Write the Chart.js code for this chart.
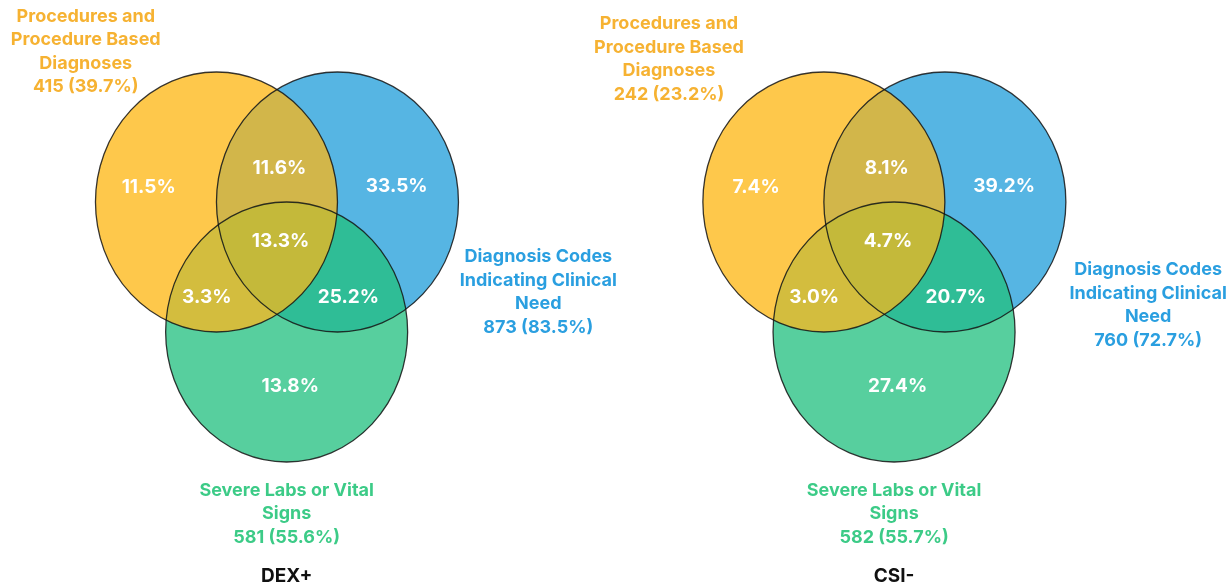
<!DOCTYPE html>
<html>
<head>
<meta charset="utf-8">
<script src="https://cdn.jsdelivr.net/npm/chart.js@4"></script>
<style>
  html, body { margin: 0; padding: 0; background: #fff; }
  #wrap { width: 1232px; height: 583px; }
</style>
</head>
<body>
<div id="wrap"><canvas id="vennChart" width="1232" height="583"></canvas></div>
<script>
// panels and sets
const panelTitles = ['DEX+', 'CSI-'];
const setNames = [
    ['Procedures and', 'Procedure Based', 'Diagnoses'],
    ['Diagnosis Codes', 'Indicating Clinical', 'Need'],
    ['Severe Labs or Vital', 'Signs']
];
const setCountsDex = [415, 873, 581];
const setPctDex = [39.7, 83.5, 55.6];
const setCountsCsi = [242, 760, 582];
const setPctCsi = [23.2, 72.7, 55.7];

// regions: A only, A&B, B only, A&B&C, A&C, B&C, C only
const regionKeys = ['A', 'AB', 'B', 'ABC', 'AC', 'BC', 'C'];
const regionPctDex = [11.5, 11.6, 33.5, 13.3, 3.3, 25.2, 13.8];
const regionPctCsi = [7.4, 8.1, 39.2, 4.7, 3.0, 20.7, 27.4];

// layout (data units, circle radius = 1)
const panelOffset = [0, 5.02];
const setCenterX = [-0.5, 0.5, 0.08];
const setCenterY = [0, 0, -1];
const regionX = [-1.06, 0.02, 0.99, 0.03, -0.58, 0.59, 0.11];
const regionY = [0.11, 0.26, 0.12, -0.30, -0.73, -0.73, -1.42];
const setLabelX = [[-1.58, 2.16, 0.08], [-1.78, 2.18, 0.08]];
const setLabelY = [[1.43, -0.42, -2.22], [1.37, -0.52, -2.22]];
const titleY = -2.88;

const setFill = ['#FEC84B', '#56B5E3', '#57CF9E'];
const setText = ['#F6B232', '#2A9FE0', '#3CCB87'];
const overlapFill = { AB: '#D2B64A', AC: '#D3BD3E', BC: '#2FBD96', ABC: '#C4B93A' };

const FONT = 'Inter, "Open Sans", sans-serif';

const panelSets = [
    { counts: setCountsDex, pct: setPctDex, regions: regionPctDex },
    { counts: setCountsCsi, pct: setPctCsi, regions: regionPctCsi }
];

const datasets = [];
panelSets.forEach((p, i) => {
    datasets.push({
        label: panelTitles[i] + ' sets',
        data: setCenterX.map((x, k) => ({ x: x + panelOffset[i], y: setCenterY[k] })),
        pointRadius: 0,
        kind: 'sets', panel: i
    });
    datasets.push({
        label: panelTitles[i] + ' regions',
        data: regionX.map((x, k) => ({ x: x + panelOffset[i], y: regionY[k], v: p.regions[k] })),
        pointRadius: 0,
        kind: 'regions', panel: i
    });
});

const vennPlugin = {
    id: 'venn',
    afterDatasetsDraw(chart) {
        const ctx = chart.ctx;
        const xs = chart.scales.x, ys = chart.scales.y;
        const unitX = xs.getPixelForValue(1) - xs.getPixelForValue(0);
        const unitY = ys.getPixelForValue(0) - ys.getPixelForValue(1);

        chart.data.datasets.forEach(ds => {
            if (ds.kind !== 'sets') return;
            const pts = ds.data.map(d => ({ x: xs.getPixelForValue(d.x), y: ys.getPixelForValue(d.y) }));
            const path = k => {
                ctx.beginPath();
                ctx.ellipse(pts[k].x, pts[k].y, unitX, unitY, 0, 0, Math.PI * 2);
            };
            const fillClip = (ids, color) => {
                ctx.save();
                for (let j = 0; j < ids.length - 1; j++) { path(ids[j]); ctx.clip(); }
                path(ids[ids.length - 1]);
                ctx.fillStyle = color;
                ctx.fill();
                ctx.restore();
            };
            [0, 1, 2].forEach(k => fillClip([k], setFill[k]));
            fillClip([0, 1], overlapFill.AB);
            fillClip([0, 2], overlapFill.AC);
            fillClip([1, 2], overlapFill.BC);
            fillClip([0, 1, 2], overlapFill.ABC);
            ctx.save();
            ctx.strokeStyle = 'rgba(20,20,20,0.85)';
            ctx.lineWidth = 1.3;
            [0, 1, 2].forEach(k => { path(k); ctx.stroke(); });
            ctx.restore();

            // set labels
            const p = panelSets[ds.panel];
            ctx.save();
            ctx.textAlign = 'center';
            ctx.textBaseline = 'middle';
            ctx.font = 'bold 18px ' + FONT;
            [0, 1, 2].forEach(k => {
                const lines = setNames[k].concat([p.counts[k] + ' (' + p.pct[k].toFixed(1) + '%)']);
                const lx = xs.getPixelForValue(setLabelX[ds.panel][k] + panelOffset[ds.panel]);
                const ly = ys.getPixelForValue(setLabelY[ds.panel][k]);
                ctx.fillStyle = setText[k];
                lines.forEach((t, j) => ctx.fillText(t, lx, ly + j * 23.5));
            });
            ctx.fillStyle = '#111';
            ctx.font = 'bold 19px ' + FONT;
            ctx.fillText(panelTitles[ds.panel],
                xs.getPixelForValue(setCenterX[2] + panelOffset[ds.panel]),
                ys.getPixelForValue(titleY));
            ctx.restore();
        });

        chart.data.datasets.forEach(ds => {
            if (ds.kind !== 'regions') return;
            ctx.save();
            ctx.textAlign = 'center';
            ctx.textBaseline = 'middle';
            ctx.fillStyle = '#fff';
            ctx.font = 'bold 19px ' + FONT;
            ds.data.forEach(d => {
                ctx.fillText(d.v.toFixed(1) + '%', xs.getPixelForValue(d.x), ys.getPixelForValue(d.y));
            });
            ctx.restore();
        });
    }
};

new Chart(document.getElementById('vennChart').getContext('2d'), {
    type: 'scatter',
    data: { datasets: datasets },
    options: {
        responsive: false,
        animation: false,
        events: [],
        layout: { padding: 0 },
        plugins: { legend: { display: false }, tooltip: { enabled: false } },
        scales: {
            x: { type: 'linear', display: false, min: -2.289, max: 7.893 },
            y: { type: 'linear', display: false, min: -2.931, max: 1.554 }
        }
    },
    plugins: [vennPlugin]
});
</script>
</body>
</html>
